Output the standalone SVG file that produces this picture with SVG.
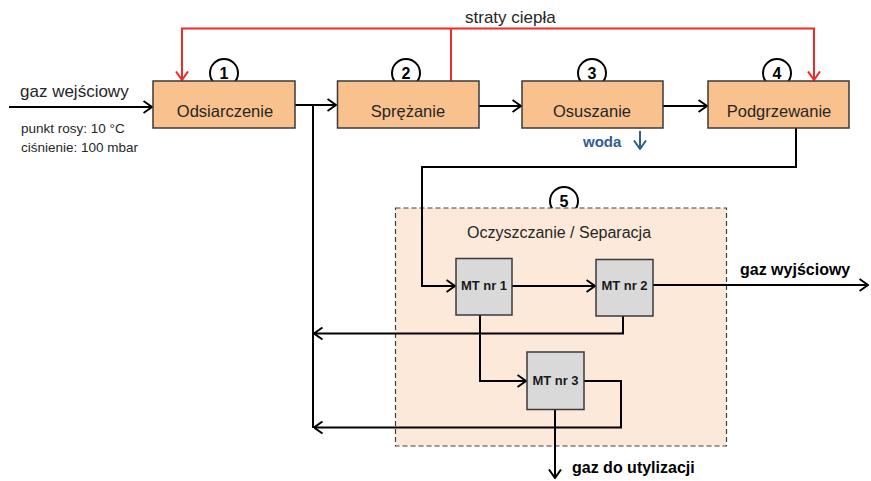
<svg xmlns="http://www.w3.org/2000/svg" width="871" height="481" viewBox="0 0 871 481">
<defs>
<style>
text{font-family:"Liberation Sans",Arial,sans-serif;fill:#262626}
.lbl{font-size:16.5px;text-anchor:middle}
.proc{fill:#F9C18E;stroke:#3a3a3a;stroke-width:1.5}
.mt{fill:#D9D9D9;stroke:#3a3a3a;stroke-width:1.5}
.mtt{font-size:13px;font-weight:bold;text-anchor:middle;fill:#1a1a1a}
.num{fill:#fff;stroke:#000;stroke-width:2}
.numt{font-size:16px;font-weight:bold;text-anchor:middle;fill:#000}
.ln{fill:none;stroke:#000;stroke-width:2}
.red{fill:none;stroke:#EE2A2A;stroke-width:2}
.out{font-size:16px;font-weight:bold;fill:#000}
</style>
<marker id="ab" viewBox="0 0 10 14" refX="9.5" refY="7" markerWidth="10" markerHeight="14" markerUnits="userSpaceOnUse" orient="auto"><path d="M1,1 L9.5,7 L1,13" fill="none" stroke="#000" stroke-width="2"/></marker>
<marker id="ar" viewBox="0 0 10 14" refX="9.5" refY="7" markerWidth="10" markerHeight="14" markerUnits="userSpaceOnUse" orient="auto"><path d="M1,1 L9.5,7 L1,13" fill="none" stroke="#EE2A2A" stroke-width="2"/></marker>
<marker id="abl" viewBox="0 0 10 14" refX="9.5" refY="7" markerWidth="10" markerHeight="14" markerUnits="userSpaceOnUse" orient="auto"><path d="M1,1 L9.5,7 L1,13" fill="none" stroke="#2F5E96" stroke-width="2"/></marker>
</defs>
<rect width="871" height="481" fill="#fff"/>

<g id="sep5">
<circle class="num" cx="564" cy="201" r="14"/>
<text class="numt" x="564" y="207">5</text>
<rect x="395.5" y="208" width="331" height="238" fill="#FDE9DA" stroke="#404040" stroke-width="1.2" stroke-dasharray="5,3"/>
<text x="559" y="238" font-size="16px" text-anchor="middle">Oczyszczanie / Separacja</text>
</g>

<g id="connectors">
<path class="red" d="M451,81 V28.5 M182,81 V28.5 H814 V80" />
<path class="red" d="M182,40 V80" marker-end="url(#ar)"/>
<path class="red" d="M814,40 V80" marker-end="url(#ar)"/>
<path class="ln" d="M9,107 H152" marker-end="url(#ab)"/>
<path class="ln" d="M295,105 H336" marker-end="url(#ab)"/>
<path class="ln" d="M313,105 V428"/>
<path class="ln" d="M479,106 H521" marker-end="url(#ab)"/>
<path class="ln" d="M663,106 H707" marker-end="url(#ab)"/>
<path class="ln" d="M796,128 V167 H422 V286 H455" marker-end="url(#ab)"/>
<path class="ln" d="M512,286 H595" marker-end="url(#ab)"/>
<path class="ln" d="M653,285 H868" marker-end="url(#ab)"/>
<path class="ln" d="M623,316 V333.5 H314" marker-end="url(#ab)"/>
<path class="ln" d="M480,315 V381 H526" marker-end="url(#ab)"/>
<path class="ln" d="M584,381 H621 V427.5 H314" marker-end="url(#ab)"/>
<path class="ln" d="M555,410 V478" marker-end="url(#ab)"/>
<path d="M640,131 V149" fill="none" stroke="#2F5E96" stroke-width="2" marker-end="url(#abl)"/>
</g>

<g id="n1">
<circle class="num" cx="224" cy="73" r="14"/>
<text class="numt" x="224" y="79">1</text>
<rect class="proc" x="153" y="81" width="142" height="47"/>
<text class="lbl" x="225" y="117">Odsiarczenie</text>
</g>
<g id="n2">
<circle class="num" cx="406" cy="73" r="14"/>
<text class="numt" x="406" y="79">2</text>
<rect class="proc" x="337.5" y="81" width="141.5" height="47"/>
<text class="lbl" x="408" y="117">Sprężanie</text>
</g>
<g id="n3">
<circle class="num" cx="592" cy="73" r="14"/>
<text class="numt" x="592" y="79">3</text>
<rect class="proc" x="522" y="81" width="141" height="47"/>
<text class="lbl" x="592" y="117">Osuszanie</text>
</g>
<g id="n4">
<circle class="num" cx="777" cy="73" r="14"/>
<text class="numt" x="777" y="79">4</text>
<rect class="proc" x="708" y="81" width="141" height="47"/>
<text class="lbl" x="779" y="117">Podgrzewanie</text>
</g>

<g id="mt1">
<rect class="mt" x="456" y="258.5" width="56" height="56.5"/>
<text class="mtt" x="484" y="290">MT nr 1</text>
</g>
<g id="mt2">
<rect class="mt" x="596" y="259.5" width="57" height="56.5"/>
<text class="mtt" x="624.5" y="290">MT nr 2</text>
</g>
<g id="mt3">
<rect class="mt" x="527" y="352" width="57" height="57.5"/>
<text class="mtt" x="555.5" y="385">MT nr 3</text>
</g>

<g id="labels">
<text x="465" y="23" font-size="17px">straty ciepła</text>
<text x="20" y="97" font-size="17px">gaz wejściowy</text>
<text x="21" y="133" font-size="13.5px">punkt rosy: 10 °C</text>
<text x="21" y="152" font-size="13.5px">ciśnienie: 100 mbar</text>
<text x="583" y="147" font-size="15px" font-weight="bold" style="fill:#2F5E96">woda</text>
<text class="out" x="740" y="275">gaz wyjściowy</text>
<text class="out" x="572" y="473" font-size="15.5px">gaz do utylizacji</text>
</g>
</svg>
